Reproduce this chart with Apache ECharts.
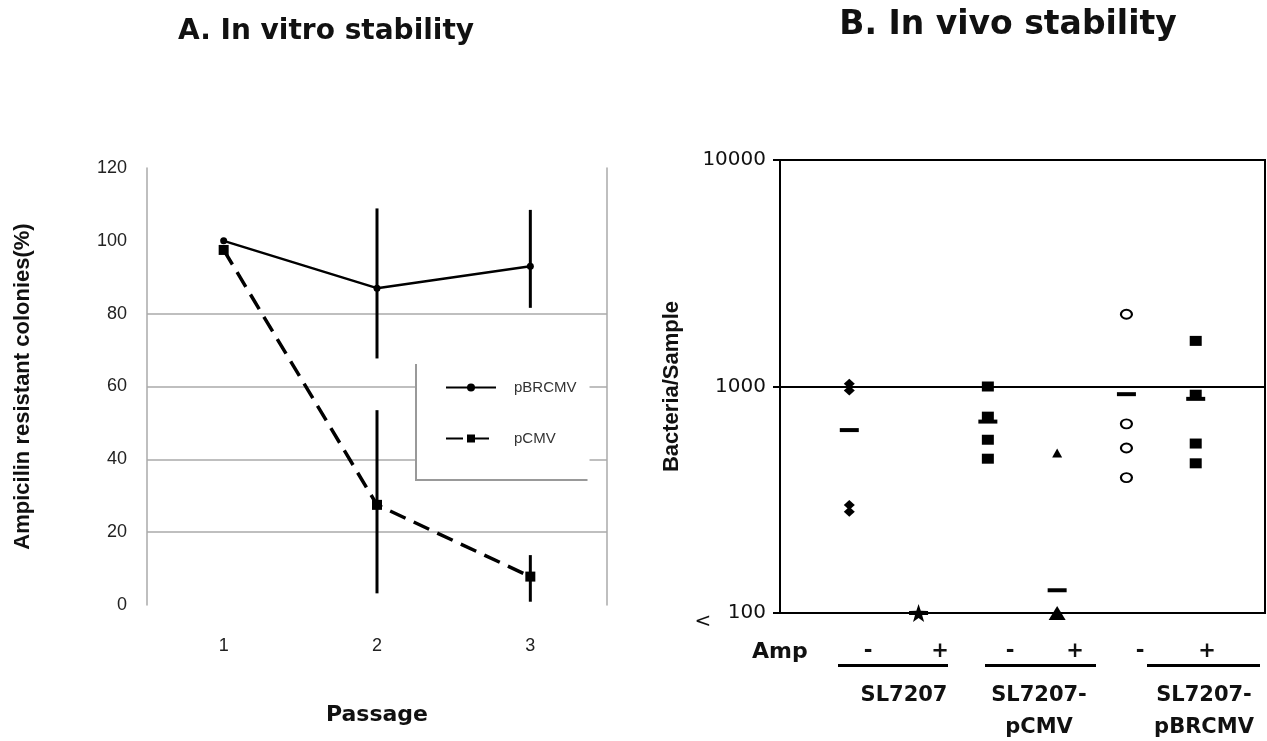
<!DOCTYPE html>
<html><head><meta charset="utf-8">
<script src="https://cdn.jsdelivr.net/npm/echarts@6/dist/echarts.min.js"></script>
<style>html,body{margin:0;padding:0;background:#fff}#c{width:1267px;height:741px}</style>
</head><body><div id="c"></div>
<script>
// ---- Panel A data (in vitro stability) ----
const passages = ['1', '2', '3'];
const pBRCMV = [100, 87, 93];
const pBRCMVLow = [null, 67.7, 81.6];
const pBRCMVHigh = [null, 108.9, 108.5];
const pCMV = [97.5, 27.5, 7.8];
const pCMVLow = [null, 3.2, 0.9];
const pCMVHigh = [null, 53.5, 13.7];

// ---- Panel B data (in vivo stability), Bacteria/Sample, 100 = "<100" ----
const groupIndex = [0, 1, 2, 3, 4, 5];
const sl7207Minus = [1028, 960, 300, 280];
const sl7207Plus = [100];
const pCMVMinus = [1000, 736, 582, 480];
const pCMVPlus = [509, 100];
const pBRCMVMinus = [2085, 684, 535, 396];
const pBRCMVPlus = [1590, 920, 560, 458];
const groupMeans = [642, 100, 700, 126, 925, 882];
const ampSigns = ['-', '+', '-', '+', '-', '+'];
const strainLabels = ['SL7207', 'SL7207-\npCMV', 'SL7207-\npBRCMV'];

const FONT = '"Liberation Sans", Arial, Helvetica, sans-serif';
const WIDE = '"DejaVu Sans", Verdana, sans-serif';
const chart = echarts.init(document.getElementById('c'));

function errData(lo, hi) {
  const out = [];
  lo.forEach((v, i) => { if (v !== null) out.push([i, v, hi[i]]); });
  return out;
}
function errRender(params, api) {
  const x = api.value(0);
  const p1 = api.coord([x, api.value(1)]);
  const p2 = api.coord([x, api.value(2)]);
  return { type: 'line', shape: { x1: p1[0], y1: p1[1], x2: p2[0], y2: p2[1] },
    style: { stroke: '#000', lineWidth: 3 } };
}
function pts(i, arr) { return arr.map(v => [groupIndex[i], v]); }

const black = { color: '#000', opacity: 1 };
const sq = { itemStyle: black, symbol: 'rect', symbolSize: [12, 10] };

const signX = [868, 940, 1010, 1075, 1140, 1207];
const underlines = [[838, 948], [985, 1096], [1147, 1260]];
const strainX = [904, 1039, 1204];
const graphics = [];
graphics.push({ type: 'text', x: 752, y: 652, style: { text: 'Amp', font: 'bold 22px ' + WIDE, fill: '#111', textVerticalAlign: 'middle' } });
ampSigns.forEach((s, i) => graphics.push({ type: 'text', x: signX[i], y: 652,
  style: { text: s, font: 'bold 21px ' + WIDE, fill: '#111', textAlign: 'center', textVerticalAlign: 'middle' } }));
underlines.forEach(u => graphics.push({ type: 'rect', shape: { x: u[0], y: 664, width: u[1] - u[0], height: 3 }, style: { fill: '#000' } }));
strainLabels.forEach((s, i) => graphics.push({ type: 'text', x: strainX[i], y: 680,
  style: { text: s, font: 'bold 21px ' + WIDE, fill: '#111', textAlign: 'center', textVerticalAlign: 'top', lineHeight: 32 } }));
graphics.push({ type: 'text', x: 703, y: 622, style: { text: '<', font: '20px ' + WIDE, fill: '#111', textAlign: 'center', textVerticalAlign: 'middle' } });

chart.setOption({
  animation: false,
  backgroundColor: '#fff',
  textStyle: { fontFamily: FONT },
  title: [
    { text: 'A. In vitro stability', left: 326, top: 18, textAlign: 'center', padding: 0,
      textStyle: { fontSize: 28, fontWeight: 'bold', color: '#111', fontFamily: WIDE } },
    { text: 'B. In vivo stability', left: 1008, top: 9, textAlign: 'center', padding: 0,
      textStyle: { fontSize: 33, fontWeight: 'bold', color: '#111', fontFamily: WIDE } }
  ],
  legend: {
    data: ['pBRCMV', 'pCMV'], orient: 'vertical', left: 417, top: 362,
    padding: [18, 13, 33, 28], itemGap: 36, itemWidth: 50, itemHeight: 10,
    backgroundColor: '#fff', shadowColor: '#999', shadowBlur: 0, shadowOffsetX: -2, shadowOffsetY: 2,
    textStyle: { fontSize: 15, color: '#333', padding: [0, 0, 0, 13], fontFamily: FONT }
  },
  grid: [
    { left: 147, top: 168, width: 460, height: 437 },
    { left: 780, top: 160, width: 485, height: 453, show: true, borderColor: '#000', borderWidth: 2 }
  ],
  xAxis: [
    { type: 'category', gridIndex: 0, data: passages, boundaryGap: true,
      axisLine: { show: false }, axisTick: { show: false },
      axisLabel: { fontSize: 18, color: '#222', margin: 32 },
      name: 'Passage', nameLocation: 'middle', nameGap: 99,
      nameTextStyle: { fontSize: 22, fontWeight: 'bold', color: '#111', fontFamily: WIDE } },
    { type: 'value', gridIndex: 1, min: -1, max: 6, show: false }
  ],
  yAxis: [
    { type: 'value', gridIndex: 0, min: 0, max: 120, interval: 20,
      axisLine: { show: true, lineStyle: { color: '#aaa', width: 1.5 } }, axisTick: { show: false },
      axisLabel: { fontSize: 18, color: '#222', margin: 20 },
      splitLine: { show: true, lineStyle: { width: 1.5,
        color: ['rgba(0,0,0,0)', '#aaa', '#aaa', '#aaa', '#aaa', 'rgba(0,0,0,0)', 'rgba(0,0,0,0)'] } },
      name: 'Ampicilin resistant colonies(%)', nameLocation: 'middle', nameGap: 113,
      nameTextStyle: { fontSize: 22, fontWeight: 'bold', color: '#111' } },
    { type: 'value', gridIndex: 0, min: 0, max: 120, position: 'right',
      axisLine: { show: true, lineStyle: { color: '#aaa', width: 1.5 } },
      axisTick: { show: false }, axisLabel: { show: false }, splitLine: { show: false } },
    { type: 'log', logBase: 10, gridIndex: 1, min: 100, max: 10000,
      axisLine: { show: true, onZero: false, lineStyle: { color: '#000', width: 2 } },
      axisTick: { show: true, length: 7, lineStyle: { color: '#000', width: 2 } },
      axisLabel: { fontSize: 20, color: '#111', margin: 14, fontFamily: WIDE, formatter: (v) => String(Math.round(v)) },
      splitLine: { show: true, lineStyle: { color: '#000', width: 2 } },
      name: 'Bacteria/Sample', nameLocation: 'middle', nameGap: 97,
      nameTextStyle: { fontSize: 22, fontWeight: 'bold', color: '#111' } }
  ],
  series: [
    { name: 'pBRCMV', type: 'line', xAxisIndex: 0, yAxisIndex: 0, data: pBRCMV,
      symbol: 'circle', symbolSize: 7, itemStyle: black, lineStyle: { color: '#000', width: 2.5 }, z: 5 },
    { name: 'pCMV', type: 'line', xAxisIndex: 0, yAxisIndex: 0, data: pCMV,
      symbol: 'rect', symbolSize: 10, itemStyle: black, lineStyle: { color: '#000', width: 3.5, type: [17, 9] }, z: 5 },
    { type: 'custom', xAxisIndex: 0, yAxisIndex: 0, data: errData(pBRCMVLow, pBRCMVHigh), renderItem: errRender, z: 4 },
    { type: 'custom', xAxisIndex: 0, yAxisIndex: 0, data: errData(pCMVLow, pCMVHigh), renderItem: errRender, z: 4 },

    { type: 'scatter', xAxisIndex: 1, yAxisIndex: 2, data: groupMeans.map((m, i) => [groupIndex[i], m]),
      symbol: 'rect', symbolSize: [19, 4], itemStyle: black, z: 3 },
    { type: 'scatter', xAxisIndex: 1, yAxisIndex: 2, data: pts(0, sl7207Minus), symbol: 'diamond', symbolSize: [11, 10], itemStyle: black, z: 4 },
    { type: 'scatter', xAxisIndex: 1, yAxisIndex: 2, data: pts(1, sl7207Plus), symbol: 'path://M0,-10L2.35,-3.24L9.51,-3.09L3.8,1.24L5.88,8.09L0,4L-5.88,8.09L-3.8,1.24L-9.51,-3.09L-2.35,-3.24Z', symbolSize: 18, itemStyle: black, z: 4 },
    Object.assign({ type: 'scatter', xAxisIndex: 1, yAxisIndex: 2, data: pts(2, pCMVMinus), z: 4 }, sq),
    { type: 'scatter', xAxisIndex: 1, yAxisIndex: 2, data: pts(3, pCMVPlus), symbol: 'triangle',
      symbolSize: (v) => v[1] <= 100 ? [17, 14] : [10, 9], itemStyle: black, z: 4 },
    { type: 'scatter', xAxisIndex: 1, yAxisIndex: 2, data: pts(4, pBRCMVMinus), symbol: 'circle', symbolSize: [11, 9],
      itemStyle: { color: '#fff', borderColor: '#000', borderWidth: 2, opacity: 1 }, z: 4 },
    Object.assign({ type: 'scatter', xAxisIndex: 1, yAxisIndex: 2, data: pts(5, pBRCMVPlus), z: 4 }, sq)
  ],
  graphic: graphics
});
</script>
</body></html>
